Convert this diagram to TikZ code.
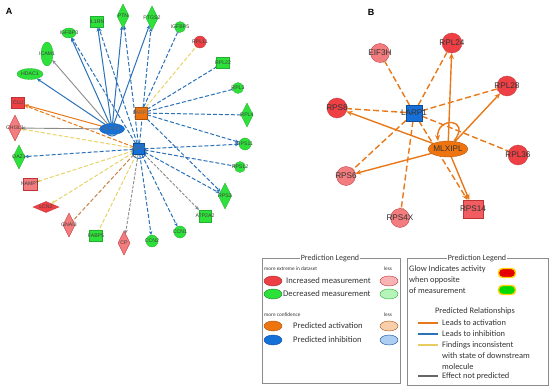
\documentclass[tikz,border=0pt]{standalone}
\usepackage{fontspec}
\setmainfont{Liberation Sans}
\newfontfamily\legfont{Carlito}
\usetikzlibrary{shapes.geometric,arrows.meta}
\pgfdeclarelayer{edges}
\pgfsetlayers{edges,main}
\definecolor{gfill}{HTML}{2EE03A}
\definecolor{gline}{HTML}{22B030}
\definecolor{rfill}{HTML}{EE4044}
\definecolor{lrfill}{HTML}{F27C7E}
\definecolor{bfill}{HTML}{1570D8}
\definecolor{ofill}{HTML}{EE7410}
\definecolor{eblue}{HTML}{2B72B8}
\definecolor{eorange}{HTML}{E87818}
\definecolor{eyellow}{HTML}{E8D36A}
\definecolor{egray}{HTML}{8A8A8A}
\definecolor{ebrown}{HTML}{C8844A}
\definecolor{ebar}{HTML}{E0B080}
\begin{document}
\begin{tikzpicture}[x=1pt,y=-1pt,
  base/.style={inner sep=0pt,outer sep=0pt,line width=0.3pt},
  lbA/.style={font=\fontsize{5.2}{6}\selectfont,text=black!75},
  lbB/.style={font=\fontsize{8.2}{9}\selectfont,text=black!80},
  gcirc/.style={base,circle,fill=gfill,draw=gline,minimum size=12},
  gbox/.style={base,rectangle,fill=gfill,draw=gline,minimum width=13,minimum height=11},
  gdia/.style={base,diamond,fill=gfill,draw=gline,minimum width=12,minimum height=24},
  gell/.style={base,ellipse,fill=gfill,draw=gline},
  rcirc/.style={base,circle,fill=rfill,draw=rfill!80!black,minimum size=12},
  rbox/.style={base,rectangle,fill=rfill,draw=rfill!80!black,minimum width=14,minimum height=12},
  lrdia/.style={base,diamond,fill=lrfill,draw=rfill!80!black,minimum width=12,minimum height=24},
  sb/.style={eblue,line width=1pt,-{Stealth[length=4pt,width=3.5pt]}},
  db/.style={eblue,line width=1pt,dash pattern=on 4pt off 2pt,-{Stealth[length=4pt,width=3.5pt]}},
  dbb/.style={eblue,line width=1pt,dash pattern=on 4pt off 2pt,-{Bar[width=3pt,color=egray,line width=0.6pt]}},
  ydb/.style={eyellow,line width=1pt,dash pattern=on 4pt off 2pt,-{Stealth[length=4pt,width=3.5pt]}},
  ydbb/.style={eyellow,line width=1pt,dash pattern=on 4pt off 2pt,-{Bar[width=3pt,line width=0.6pt]}},
  gs/.style={egray,line width=0.9pt,-{Stealth[length=4pt,width=3.5pt]}},
  gdb/.style={egray,line width=0.9pt,dash pattern=on 3pt off 1.5pt,-{Stealth[length=4pt,width=3.5pt]}},
  os/.style={eorange,line width=1pt,-{Stealth[length=4pt,width=3.5pt]}},
  odb/.style={eorange,line width=1pt,dash pattern=on 4pt off 2pt,-{Stealth[length=4pt,width=3.5pt]}},
  brb/.style={ebrown,line width=1pt,dash pattern=on 4pt off 2pt,-{Bar[width=3pt,line width=0.6pt]}},
  Bs/.style={eorange,line width=1.4pt,-{Stealth[length=6pt,width=5pt]}},
  Bd/.style={eorange,line width=1.4pt,dash pattern=on 6pt off 3pt,-{Bar[width=5pt,color=ebar,line width=0.8pt]}},
  Bda/.style={eorange,line width=1.4pt,dash pattern=on 6pt off 3pt,-{Stealth[length=6pt,width=5pt]}},
  Bcirc/.style={base,circle,fill=rfill,draw=rfill!80!black,minimum size=20},
  Blcirc/.style={base,circle,fill=lrfill,draw=rfill!80!black,minimum size=19},
  legtxt/.style={font=\legfont\fontsize{8.6}{9}\selectfont,text=black!80,inner sep=0pt},
  legtr/.style={font=\legfont\fontsize{8.4}{9}\selectfont,text=black!80,inner sep=0pt,anchor=west},
  legsm/.style={font=\legfont\fontsize{5.3}{6}\selectfont,text=black!80,inner sep=0pt},
  legttl/.style={font=\legfont\fontsize{8}{9}\selectfont,text=black!80,fill=white,inner sep=1pt},
  legell/.style={base,ellipse,minimum width=18,minimum height=10,line width=0.4pt},
  legbox/.style={draw=black!45,line width=0.6pt,inner sep=0pt,anchor=north west}
]
\useasboundingbox (0,0) rectangle (550,388);

% ================= Panel A =================
\node[font=\bfseries\fontsize{9}{10}\selectfont] (labA) at (9,11) {A};

\node[gell,minimum width=12,minimum height=24,label={[lbA]center:ICAM1}] (icam) at (47,54) {};
\node[gell,minimum width=14,minimum height=10,label={[lbA]center:IGFBP3}] (igfbp3) at (69,33) {};
\node[gbox,label={[lbA]center:IL1RN}] (il1rn) at (97,22) {};
\node[gdia,label={[lbA]center:PTN}] (ptn) at (123,16) {};
\node[gdia,label={[lbA]center:PTGS2}] (ptgs2) at (152,18) {};
\node[gcirc,minimum size=11,label={[lbA]center:IGFBP5}] (igfbp5) at (180,27) {};
\node[rcirc,label={[lbA]center:RPL11}] (rpl11) at (200,42) {};
\node[gbox,label={[lbA]center:RPL22}] (rpl22) at (223,63) {};
\node[gcirc,minimum size=11,label={[lbA]center:RPL3}] (rpl3) at (238,88) {};
\node[gdia,label={[lbA]center:RPL4}] (rpl4) at (247,115) {};
\node[gcirc,label={[lbA]center:RPS11}] (rps11) at (245,144) {};
\node[gcirc,minimum size=11,label={[lbA]center:RPS12}] (rps12) at (240,167) {};
\node[gdia,minimum width=13,minimum height=26,label={[lbA]center:RPS3}] (rps3) at (225,196) {};
\node[gbox,minimum width=12,minimum height=12,label={[lbA]center:ATP2A2}] (atp) at (205,216) {};
\node[gcirc,label={[lbA]center:CCN1}] (ccn1) at (180,232) {};
\node[gcirc,label={[lbA]center:CCN2}] (ccn2) at (152,241) {};
\node[lrdia,label={[lbA]center:CP}] (cp) at (124,243) {};
\node[gbox,label={[lbA]center:FABP5}] (fabp) at (96,236) {};
\node[lrdia,label={[lbA]center:GNAI3}] (gnai) at (69,225) {};
\node[base,diamond,fill=rfill,draw=rfill!80!black,minimum width=26,minimum height=11,label={[lbA]center:LCN2}] (lcn) at (46,207) {};
\node[rbox,fill=lrfill,label={[lbA]center:NAMPT}] (nampt) at (30,184) {};
\node[gdia,label={[lbA]center:OAZ1}] (oaz) at (19,157) {};
\node[lrdia,minimum width=13,minimum height=26,label={[lbA]center:CHI3L1}] (chi) at (15,128) {};
\node[rbox,minimum width=13,minimum height=11,label={[lbA]center:CLU}] (clu) at (18,103) {};
\node[gell,minimum width=26,minimum height=11,label={[lbA]center:HDAC1}] (hdac) at (30,74) {};

% hubs
\node[base,ellipse,fill=bfill,draw=bfill!70!black,minimum width=25,minimum height=11,label={[lbA,text=black!60]center:MLXIPL}] (E) at (112,129) {};
\node[base,rectangle,fill=bfill,draw=bfill!70!black,minimum size=11,label={[lbA,text=black!60]center:MYC}] (S) at (139,149) {};
\node[base,rectangle,fill=ofill,draw=ofill!70!black,minimum size=12,label={[lbA,text=black!60]center:LARP1}] (L) at (141,113) {};

\begin{pgfonlayer}{edges}
\draw[sb] (E) -- (hdac);
\draw[gs] (E) -- (icam);
\draw[sb] (E) -- (igfbp3);
\draw[db] (S) -- (igfbp3);
\draw[sb] (E) -- (il1rn);
\draw[db] (S) -- (il1rn);
\draw[sb] (E) -- (ptn);
\draw[db] (S) -- (ptn);
\draw[sb] (E) -- (ptgs2);
\draw[db] (S) -- (ptgs2);
\draw[dbb] (L) -- (igfbp5);
\draw[ydbb] (L) -- (rpl11);
\draw[dbb] (L) -- (rpl22);
\draw[dbb] (L) -- (rpl3);
\draw[dbb] (L) -- (rpl4);
\draw[db] (L) -- (rps11);
\draw[db] (S) -- (rps11);
\draw[dbb] (S) -- (rps12);
\draw[db] (S) -- (rps3);
\draw[db] (L) -- (rps3);
\draw[gdb] (S) -- (atp);
\draw[db] (S) -- (ccn1);
\draw[db] (S) -- (ccn2);
\draw[gdb] (S) -- (cp);
\draw[ydbb] (S) -- (fabp);
\draw[brb] (S) -- (gnai);
\draw[ydb] (S) -- (lcn);
\draw[ydb] (S) -- (nampt);
\draw[db] (S) -- (oaz);
\draw[ydb] (S) -- (chi);
\draw[gs] (E) -- (chi);
\draw[os] (E) -- (clu);
\draw[odb] (S) -- (clu);
\end{pgfonlayer}
% self loops
\draw[eblue,line width=0.9pt] ([yshift=-6pt]E.north) circle[radius=6.5];
\draw[eblue,line width=0.9pt] ([yshift=-8pt]S.north) circle[radius=7];

% ================= Panel B =================
\node[font=\bfseries\fontsize{9}{10}\selectfont] (labB) at (371,12) {B};

\node[Blcirc,label={[lbB]center:EIF3H}] (eif) at (380,53) {};
\node[Bcirc,label={[lbB]center:RPL24}] (rpl24) at (452,43) {};
\node[Bcirc,label={[lbB]center:RPL28}] (rpl28) at (507,86) {};
\node[Bcirc,label={[lbB]center:RPS8}] (rps8) at (337,108) {};
\node[Bcirc,label={[lbB]center:RPL36}] (rpl36) at (518,155) {};
\node[Blcirc,label={[lbB]center:RPS6}] (rps6) at (346,176) {};
\node[base,rectangle,fill=rfill!85!white,draw=rfill!80!black,minimum width=20,minimum height=18,label={[lbB]center:RPS14}] (rps14) at (473,209) {};
\node[Blcirc,label={[lbB]center:RPS4X}] (rps4x) at (400,218) {};
\node[base,ellipse,fill=ofill,draw=ofill!70!black,minimum width=40,minimum height=16,label={[lbB]center:MLXIPL}] (mlx) at (448,149) {};
\node[base,rectangle,fill=bfill,draw=bfill!70!black,minimum size=16,label={[lbB]center:LARP1}] (larp) at (414,113) {};

\begin{pgfonlayer}{edges}
\draw[Bs] (mlx) -- (rpl24);
\draw[Bs] (mlx) -- (rpl28);
\draw[Bs] (mlx) -- (rps8);
\draw[Bs] (mlx) -- (rps6);
\draw[Bs] (mlx) -- (rps14);
\draw[Bd] (larp) -- (eif);
\draw[Bd] (larp) -- (rpl24);
\draw[Bd] (larp) -- (rpl28);
\draw[Bd] (larp) -- (rps8);
\draw[Bd] (larp) -- (rpl36);
\draw[Bd] (larp) -- (rps6);
\draw[Bd] (larp) -- (rps4x);
\draw[Bda] (larp) -- (rps14);
\draw[eorange,line width=1.4pt,-{Stealth[length=6pt,width=5pt]}]
  ([xshift=6pt]mlx.north) .. controls (472,118) and (436,116) .. ([xshift=-10pt]mlx.north);
\end{pgfonlayer}

% ================= Legends =================
\node[legbox,minimum width=138,minimum height=125] (leg1) at (262,258) {};
\node[legttl] (t1) at (330,258) {Prediction Legend};
\node[legsm,anchor=west] (m1) at (264,269) {more extreme in dataset};
\node[legsm] (m1l) at (388,269) {less};
\node[legell,fill=rfill,draw=rfill!70!black] (e1) at (273,281) {};
\node[legtxt,anchor=west] (x1) at (286,281) {Increased measurement};
\node[legell,fill=rfill!40!white,draw=rfill!80!black] (e1l) at (389,281) {};
\node[legell,fill=gfill,draw=gline!70!black] (e2) at (273,294) {};
\node[legtxt,anchor=west] (x2) at (283,294) {Decreased measurement};
\node[legell,fill=gfill!35!white,draw=gline] (e2l) at (389,294) {};
\node[legsm,anchor=west] (m2) at (264,315) {more confidence};
\node[legsm] (m2l) at (388,315) {less};
\node[legell,fill=ofill,draw=ofill!70!black] (e3) at (273,326) {};
\node[legtxt,anchor=west] (x3) at (293,326) {Predicted activation};
\node[legell,fill=ofill!35!white,draw=ofill!70!black] (e3l) at (389,326) {};
\node[legell,fill=bfill,draw=bfill!70!black] (e4) at (273,340) {};
\node[legtxt,anchor=west] (x4) at (293,340) {Predicted inhibition};
\node[legell,fill=bfill!35!white,draw=bfill!70!black] (e4l) at (389,340) {};

\node[legbox,minimum width=141,minimum height=127] (leg2) at (407,258) {};
\node[legttl] (t2) at (477,258) {Prediction Legend};
\node[legtr] (g1) at (409,269) {Glow Indicates activity};
\node[legtr] (g2) at (409,280) {when opposite};
\node[legtr] (g3) at (409,291) {of measurement};
\node[base,rounded corners=4pt,fill=red!90!black,draw=yellow!70!orange,line width=1.4pt,minimum width=17,minimum height=9] (gr) at (507,273) {};
\node[base,rounded corners=4pt,fill=green!85!black,draw=yellow!70!orange,line width=1.4pt,minimum width=17,minimum height=9] (gg) at (507,290) {};
\node[legtr,anchor=center] (pr) at (475,311) {Predicted Relationships};
\coordinate (l1a) at (418,323); \coordinate (l1b) at (438,323);
\coordinate (l2a) at (418,334); \coordinate (l2b) at (438,334);
\coordinate (l3a) at (418,345); \coordinate (l3b) at (438,345);
\coordinate (l4a) at (418,376); \coordinate (l4b) at (438,376);
\draw[eorange,line width=1.2pt] (l1a) -- (l1b);
\draw[eblue,line width=1.2pt] (l2a) -- (l2b);
\draw[eyellow!90!orange,line width=1.2pt] (l3a) -- (l3b);
\draw[black!60,line width=1.2pt] (l4a) -- (l4b);
\node[legtr] (r1) at (442,323) {Leads to activation};
\node[legtr] (r2) at (442,334) {Leads to inhibition};
\node[legtr] (r3) at (442,345) {Findings inconsistent};
\node[legtr] (r3b) at (442,356) {with state of downstream};
\node[legtr] (r3c) at (442,367) {molecule};
\node[legtr] (r4) at (442,376) {Effect not predicted};
\end{tikzpicture}
\end{document}
